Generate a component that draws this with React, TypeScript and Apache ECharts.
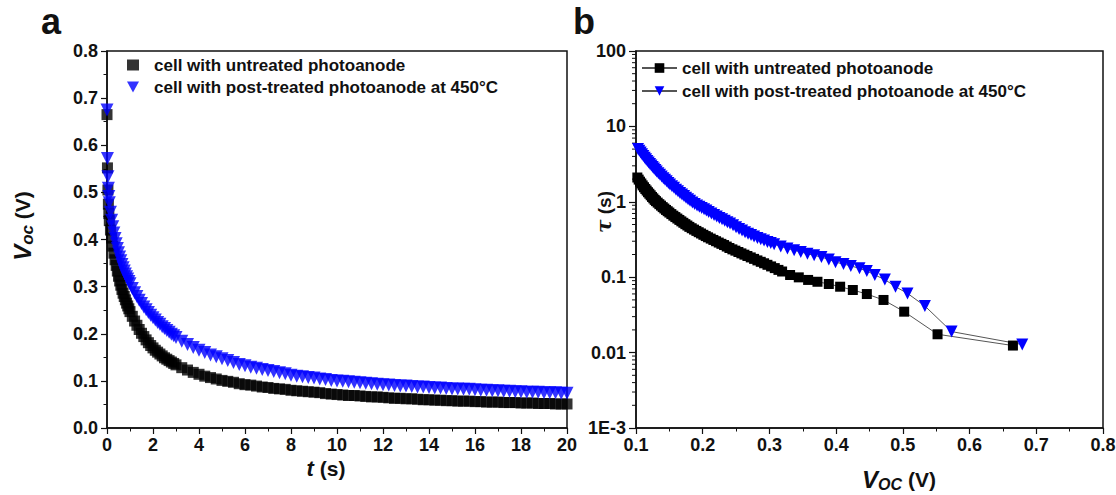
import React, { useEffect, useRef } from 'react';
import * as echarts from 'echarts';

const FONT = '"Liberation Sans", Arial, Helvetica, sans-serif';
const INK = '#111';
const BLUE = '#0000ff';

// ---- panel a: Voc decay ----
const timeA = [0, 0.02, 0.04, 0.06, 0.08, 0.1, 0.15, 0.2, 0.25, 0.3, 0.35, 0.4, 0.45, 0.5, 0.55, 0.6, 0.65, 0.7, 0.75, 0.8, 0.85, 0.9, 0.95, 1.0,
  1.1, 1.2, 1.3, 1.4, 1.5, 1.6, 1.7, 1.8, 1.9, 2.0, 2.1, 2.2, 2.3, 2.4, 2.5, 2.6, 2.7, 2.8, 2.9, 3.0,
  3.25, 3.5, 3.75, 4.0, 4.25, 4.5, 4.75, 5.0, 5.25, 5.5, 5.75, 6.0, 6.25, 6.5, 6.75, 7.0,
  7.25, 7.5, 7.75, 8.0, 8.25, 8.5, 8.75, 9.0, 9.25, 9.5, 9.75, 10.0, 10.25, 10.5, 10.75, 11.0, 11.25, 11.5, 11.75, 12.0, 12.25, 12.5,
  12.75, 13.0, 13.25, 13.5, 13.75, 14.0, 14.25, 14.5, 14.75, 15.0, 15.25, 15.5, 15.75, 16.0, 16.25, 16.5, 16.75, 17.0, 17.25, 17.5,
  17.75, 18.0, 18.25, 18.5, 18.75, 19.0, 19.25, 19.5, 19.75, 20.0];

const vocUntreated = [0.665, 0.552, 0.505, 0.475, 0.455,
  0.440, 0.420, 0.403, 0.386, 0.371, 0.357, 0.345, 0.333, 0.322, 0.312, 0.303, 0.294, 0.286, 0.279, 0.272, 0.265, 0.259, 0.253, 0.247,
  0.237, 0.227, 0.218, 0.209, 0.201, 0.194, 0.187, 0.181, 0.175, 0.170, 0.165, 0.161, 0.157, 0.153, 0.149, 0.146, 0.143, 0.140, 0.137, 0.134,
  0.128, 0.123, 0.118, 0.114, 0.110, 0.107, 0.104, 0.101, 0.099, 0.097, 0.094,
  0.092, 0.091, 0.089, 0.087, 0.086, 0.084, 0.083, 0.082, 0.080, 0.079, 0.078, 0.077, 0.076, 0.075, 0.073, 0.072, 0.071, 0.070, 0.069,
  0.069, 0.068, 0.067, 0.066, 0.066, 0.065, 0.064, 0.063, 0.063, 0.062, 0.062, 0.061, 0.060, 0.060, 0.059, 0.059, 0.058, 0.058, 0.057,
  0.057, 0.057, 0.056, 0.056, 0.055, 0.055, 0.055, 0.054, 0.054, 0.054, 0.053, 0.053, 0.053, 0.052, 0.052, 0.052, 0.051, 0.051, 0.051];

const vocTreated = [0.675, 0.572, 0.533, 0.509, 0.491,
  0.478, 0.458, 0.441, 0.427, 0.414, 0.402, 0.391, 0.381, 0.372, 0.363, 0.355, 0.347, 0.340, 0.333, 0.327, 0.321, 0.316, 0.311, 0.306,
  0.296, 0.287, 0.279, 0.271, 0.264, 0.257, 0.251, 0.245, 0.239, 0.234, 0.229, 0.224, 0.220, 0.215, 0.211, 0.207, 0.203, 0.199, 0.196, 0.192,
  0.184, 0.177, 0.171, 0.165,
  0.160, 0.155, 0.151, 0.147, 0.143, 0.139, 0.135, 0.132, 0.129, 0.127, 0.124, 0.122, 0.120, 0.117, 0.115, 0.112,
  0.110, 0.109, 0.107, 0.106, 0.104, 0.103, 0.101, 0.100, 0.099, 0.098, 0.097, 0.096, 0.095, 0.094, 0.093, 0.092,
  0.091, 0.090, 0.089, 0.089, 0.088, 0.087, 0.087, 0.086, 0.085, 0.085, 0.084, 0.083, 0.083, 0.082, 0.082, 0.081,
  0.080, 0.080, 0.079, 0.079, 0.078, 0.078, 0.077, 0.077, 0.076, 0.076, 0.076, 0.075, 0.075, 0.075, 0.074, 0.074];

// ---- panel b: lifetime vs Voc ----
const vocB_untreated = [0.102, 0.104, 0.106, 0.108, 0.110, 0.112, 0.114, 0.116, 0.118, 0.120, 0.122, 0.124, 0.126, 0.128, 0.130,
  0.1325, 0.135, 0.1375, 0.140, 0.1425, 0.145, 0.1475, 0.150, 0.153, 0.156, 0.159, 0.162, 0.165, 0.168, 0.171, 0.174, 0.177, 0.180,
  0.1835, 0.187, 0.1905, 0.194, 0.1975, 0.201, 0.2045, 0.208, 0.212, 0.216, 0.220, 0.224, 0.228, 0.232, 0.236, 0.240, 0.2445, 0.249,
  0.2535, 0.258, 0.2625, 0.267, 0.272, 0.277, 0.282, 0.287, 0.292, 0.297, 0.3025, 0.308, 0.3135, 0.319,
  0.331, 0.344, 0.358, 0.372, 0.389, 0.406, 0.425, 0.446, 0.471, 0.502, 0.552, 0.665];
const tau_untreated = [2.10, 1.97, 1.85, 1.75, 1.65, 1.56, 1.48, 1.41, 1.34, 1.28, 1.22, 1.16, 1.11, 1.06, 1.02,
  0.975, 0.93, 0.89, 0.85, 0.815, 0.78, 0.75, 0.72, 0.687, 0.655, 0.627, 0.60, 0.575, 0.55, 0.527, 0.505, 0.485, 0.465,
  0.446, 0.428, 0.411, 0.395, 0.380, 0.365, 0.351, 0.338, 0.325, 0.312, 0.300, 0.288, 0.277, 0.267, 0.255, 0.244, 0.234, 0.225,
  0.216, 0.207, 0.199, 0.191, 0.183, 0.175, 0.167, 0.160, 0.153, 0.146, 0.139, 0.132, 0.125, 0.119,
  0.107, 0.0995, 0.092, 0.087, 0.0813, 0.0748, 0.0676, 0.0598, 0.0499, 0.0349, 0.0175, 0.0124];

const vocB_treated = [0.103, 0.105, 0.107, 0.109, 0.111, 0.113, 0.115, 0.117, 0.119, 0.121, 0.123, 0.125, 0.127, 0.129, 0.131,
  0.1335, 0.136, 0.1385, 0.141, 0.1435, 0.146, 0.1485, 0.151, 0.154, 0.157, 0.160, 0.163, 0.166, 0.169, 0.172, 0.175, 0.178, 0.181,
  0.1845, 0.188, 0.1915, 0.195, 0.1985, 0.202, 0.2055, 0.209, 0.213, 0.217, 0.221, 0.225, 0.229, 0.233, 0.237, 0.241, 0.2455, 0.250,
  0.2545, 0.259, 0.2635, 0.268, 0.2725, 0.277, 0.282, 0.287, 0.292, 0.297, 0.302, 0.307, 0.317,
  0.327, 0.337, 0.347, 0.357, 0.367, 0.378, 0.389, 0.399, 0.411, 0.422, 0.435, 0.446, 0.458, 0.473, 0.489, 0.507, 0.533, 0.573, 0.679];
const tau_treated = [5.00, 4.74, 4.50, 4.27, 4.05, 3.85, 3.66, 3.48, 3.32, 3.17, 3.02, 2.89, 2.76, 2.64, 2.53,
  2.40, 2.28, 2.17, 2.06, 1.96, 1.87, 1.78, 1.70, 1.61, 1.53, 1.45, 1.38, 1.31, 1.25, 1.19, 1.13, 1.08, 1.03,
  0.98, 0.935, 0.895, 0.862, 0.828, 0.795, 0.765, 0.735, 0.70, 0.67, 0.64, 0.61, 0.585, 0.56, 0.537, 0.515, 0.487, 0.460,
  0.437, 0.415, 0.396, 0.378, 0.362, 0.346, 0.332, 0.318, 0.306, 0.294, 0.284, 0.274, 0.256,
  0.241, 0.228, 0.216, 0.205, 0.195, 0.185, 0.172, 0.158, 0.150, 0.141, 0.131, 0.121, 0.107, 0.093, 0.0748, 0.061, 0.0415, 0.019, 0.0128];

const seriesLabels: Record<string, string> = {
  aU: 'cell with untreated photoanode',
  aT: 'cell with post-treated photoanode at 450°C',
  bU: 'cell with untreated photoanode',
  bT: 'cell with post-treated photoanode at 450°C',
};

const logMantissas = [2, 3, 4, 5, 6, 7, 8, 9];
const logDecades = [0.001, 0.01, 0.1, 1, 10];

const DOWN_TRIANGLE = 'path://M0,0 L10,0 L5,9 Z';

const zip = (xs: number[], ys: number[]) => xs.map((x, i) => [x, ys[i]]);

export default function App() {
  const ref = useRef<HTMLDivElement>(null);

  useEffect(() => {
    document.body.style.margin = '0';
    if (!ref.current) return;
    const chart = echarts.init(ref.current, undefined, { renderer: 'svg' });

    const minorLog: number[][] = [];
    logDecades.forEach((d) => logMantissas.forEach((m) => minorLog.push([0.1, Number((m * d).toPrecision(3))])));

    const axisLine = { show: true, onZero: false, lineStyle: { color: INK, width: 1.5 } };
    const axisTick = { show: true, inside: false, length: 6, lineStyle: { color: INK, width: 1.2 } };
    const minorTick = { show: true, splitNumber: 2, length: 3.5, lineStyle: { color: INK, width: 1 } };
    const axisLabel = { fontSize: 18, fontWeight: 'bold', color: INK, fontFamily: FONT, margin: 8 };

    const legendText = { fontSize: 17, fontWeight: 'bold', color: INK, fontFamily: FONT, lineHeight: 20 };

    const option: any = {
      animation: false,
      backgroundColor: '#fff',
      textStyle: { fontFamily: FONT },
      grid: [
        { left: 107, top: 51, width: 460, height: 377, show: true, borderColor: INK, borderWidth: 1.5, backgroundColor: 'transparent', outerBoundsMode: 'none', containLabel: false },
        { left: 636, top: 51, width: 467, height: 377, show: true, borderColor: INK, borderWidth: 1.5, backgroundColor: 'transparent', outerBoundsMode: 'none', containLabel: false },
      ],
      xAxis: [
        {
          type: 'value', gridIndex: 0, min: 0, max: 20, interval: 2,
          axisLine, axisTick, minorTick, splitLine: { show: false }, minorSplitLine: { show: false },
          axisLabel: { ...axisLabel, formatter: (v: number) => String(Math.round(v)) },
        },
        {
          type: 'value', gridIndex: 1, min: 0.1, max: 0.8, interval: 0.1,
          axisLine, axisTick, minorTick, splitLine: { show: false }, minorSplitLine: { show: false },
          axisLabel: { ...axisLabel, formatter: (v: number) => v.toFixed(1) },
        },
      ],
      yAxis: [
        {
          type: 'value', gridIndex: 0, min: 0, max: 0.8, interval: 0.1,
          axisLine, axisTick, minorTick, splitLine: { show: false }, minorSplitLine: { show: false },
          axisLabel: { ...axisLabel, margin: 9, formatter: (v: number) => v.toFixed(1) },
        },
        {
          type: 'log', logBase: 10, gridIndex: 1, min: 0.001, max: 100,
          axisLine, axisTick: { ...axisTick, length: 7 }, splitLine: { show: false },
          axisLabel: {
            ...axisLabel, margin: 10,
            formatter: (v: number) => {
              const e = Math.round(Math.log10(v));
              if (e === -3) return '1E-3';
              return e < 0 ? (Math.pow(10, e)).toFixed(-e) : String(Math.pow(10, e));
            },
          },
        },
      ],
      legend: [
        {
          data: [{ name: 'aU', icon: 'rect' }, { name: 'aT', icon: DOWN_TRIANGLE }],
          orient: 'vertical', left: 122, top: 50, padding: 5,
          itemWidth: 12, itemHeight: 11, itemGap: 2, selectedMode: false,
          formatter: (n: string) => seriesLabels[n],
          textStyle: { ...legendText, padding: [0, 0, 0, 10] },
        },
        {
          data: ['bU', 'bT'], orient: 'vertical', left: 636, top: 53, padding: 5,
          itemWidth: 35, itemHeight: 12, itemGap: 3, selectedMode: false,
          formatter: (n: string) => seriesLabels[n],
          textStyle: { ...legendText },
        },
      ],
      series: [
        {
          name: 'aU', type: 'scatter', xAxisIndex: 0, yAxisIndex: 0,
          symbol: 'rect', symbolSize: 11, itemStyle: { color: '#000' },
          data: zip(timeA, vocUntreated),
        },
        {
          name: 'aT', type: 'scatter', xAxisIndex: 0, yAxisIndex: 0,
          symbol: 'triangle', symbolRotate: 180, symbolSize: 13, itemStyle: { color: BLUE },
          data: zip(timeA, vocTreated),
        },
        {
          name: 'bU', type: 'line', xAxisIndex: 1, yAxisIndex: 1,
          symbol: 'rect', symbolSize: 10, showAllSymbol: true,
          itemStyle: { color: '#000' }, lineStyle: { color: '#555', width: 1 },
          data: zip(vocB_untreated, tau_untreated),
        },
        {
          name: 'bT', type: 'line', xAxisIndex: 1, yAxisIndex: 1,
          symbol: 'triangle', symbolRotate: 180, symbolSize: 12, showAllSymbol: true,
          itemStyle: { color: BLUE }, lineStyle: { color: '#555', width: 1 },
          data: zip(vocB_treated, tau_treated),
        },
        {
          type: 'custom', xAxisIndex: 1, yAxisIndex: 1, clip: false, silent: true,
          data: minorLog,
          renderItem: (_p: any, api: any) => {
            const pt = api.coord([api.value(0), api.value(1)]);
            return {
              type: 'line',
              shape: { x1: pt[0] - 4, y1: pt[1], x2: pt[0], y2: pt[1] },
              style: { stroke: INK, lineWidth: 1 },
            };
          },
        },
      ],
      graphic: [
        { type: 'text', x: 51, y: 21, style: { text: 'a', font: `bold 36px ${FONT}`, fill: INK, align: 'center', verticalAlign: 'middle', textAlign: 'center', textVerticalAlign: 'middle' } },
        { type: 'text', x: 584, y: 21, style: { text: 'b', font: `bold 36px ${FONT}`, fill: INK, align: 'center', verticalAlign: 'middle', textAlign: 'center', textVerticalAlign: 'middle' } },
        {
          type: 'text', x: 22, y: 226, rotation: Math.PI / 2,
          style: {
            text: '{v|V}{s|oc}{n| (V)}', align: 'center', verticalAlign: 'middle', textAlign: 'center', textVerticalAlign: 'middle', fill: INK,
            rich: {
              v: { fontSize: 24, fontStyle: 'italic', fontWeight: 'bold', fontFamily: FONT, lineHeight: 28, fill: INK },
              s: { fontSize: 17, fontStyle: 'italic', fontWeight: 'bold', fontFamily: FONT, lineHeight: 17, verticalAlign: 'bottom', fill: INK },
              n: { fontSize: 21, fontWeight: 'bold', fontFamily: FONT, lineHeight: 28, fill: INK },
            },
          },
        },
        {
          type: 'text', x: 326, y: 468,
          style: {
            text: '{t|t}{n| (s)}', align: 'center', verticalAlign: 'middle', textAlign: 'center', textVerticalAlign: 'middle', fill: INK,
            rich: {
              t: { fontSize: 22, fontStyle: 'italic', fontWeight: 'bold', fontFamily: FONT, lineHeight: 26, fill: INK },
              n: { fontSize: 21, fontWeight: 'bold', fontFamily: FONT, lineHeight: 26, fill: INK },
            },
          },
        },
        {
          type: 'text', x: 604, y: 212, rotation: Math.PI / 2,
          style: {
            text: '{t|τ}{n| (s)}', align: 'center', verticalAlign: 'middle', textAlign: 'center', textVerticalAlign: 'middle', fill: INK,
            rich: {
              t: { fontSize: 20, fontStyle: 'italic', fontWeight: 'bold', fontFamily: '"DejaVu Serif", serif', lineHeight: 22, fill: INK },
              n: { fontSize: 19, fontWeight: 'bold', fontFamily: FONT, lineHeight: 22, fill: INK },
            },
          },
        },
        {
          type: 'text', x: 899, y: 479,
          style: {
            text: '{v|V}{s|OC}{n| (V)}', align: 'center', verticalAlign: 'middle', textAlign: 'center', textVerticalAlign: 'middle', fill: INK,
            rich: {
              v: { fontSize: 24, fontStyle: 'italic', fontWeight: 'bold', fontFamily: FONT, lineHeight: 26, fill: INK },
              s: { fontSize: 16, fontStyle: 'italic', fontWeight: 'bold', fontFamily: FONT, lineHeight: 16, verticalAlign: 'bottom', fill: INK },
              n: { fontSize: 21, fontWeight: 'bold', fontFamily: FONT, lineHeight: 26, fill: INK },
            },
          },
        },
      ],
    };

    chart.setOption(option);
    return () => chart.dispose();
  }, []);

  return <div ref={ref} style={{ width: 1116, height: 495 }} />;
}
